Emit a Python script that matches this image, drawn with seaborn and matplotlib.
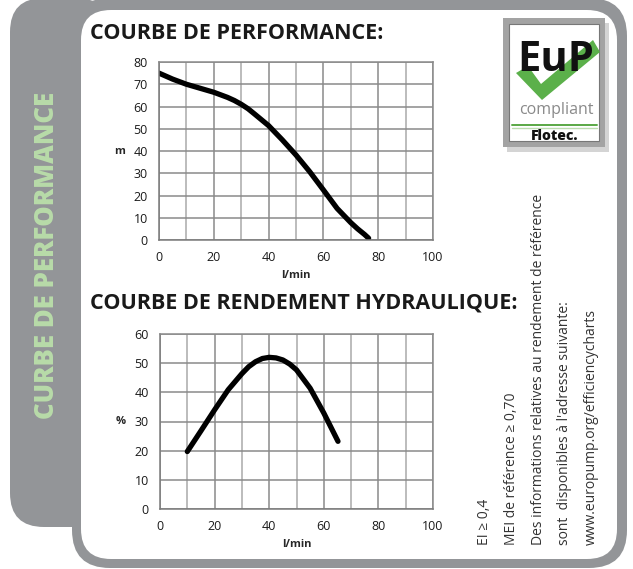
"""Pump datasheet panel: performance curve and hydraulic efficiency curve."""

import matplotlib
matplotlib.use("Agg")
import matplotlib.pyplot as plt
import seaborn as sns
from matplotlib.patches import FancyBboxPatch, Rectangle, Polygon

# performance curve (head in m vs flow in l/min)
perf_flow = [0, 5, 10, 15, 20, 25, 27.5, 30, 32.5, 35, 40, 45, 50, 55, 60, 65, 70, 72.5, 75, 76.5]
perf_head = [75, 72.3, 70, 68.2, 66.4, 64.1, 62.7, 61, 59, 56.5, 51.4, 45, 38.2, 30.7, 22.5,
             14.2, 7.8, 5, 2.5, 0.8]

# hydraulic efficiency curve (% vs flow in l/min)
eff_flow = [10, 15, 20, 25, 30, 32.5, 35, 37.5, 40, 42.5, 45, 47.5, 50, 55, 60, 65.2]
eff_pct = [19.7, 26.8, 34, 40.9, 46.4, 48.8, 50.5, 51.6, 52, 51.8, 51.1, 49.7, 47.7, 41.4, 32.9, 23.2]

flow_ticks = [0, 20, 40, 60, 80, 100]
flow_minor = [10, 30, 50, 70, 90]
head_ticks = [0, 10, 20, 30, 40, 50, 60, 70, 80]
eff_ticks = [0, 10, 20, 30, 40, 50, 60]

title_perf = "COURBE DE PERFORMANCE:"
title_eff = "COURBE DE RENDEMENT HYDRAULIQUE:"
side_title = "CURBE DE PERFORMANCE"
info_lines = [
    "EI ≥ 0,4",
    "MEI de référence ≥ 0,70",
    "Des informations relatives au rendement de référence",
    "sont  disponibles à l'adresse suivante:",
    "www.europump.org/efficiencycharts",
]

W, H = 633, 569
GRAY = "#939598"
GRID_MAJOR = "#8a8a8a"
GRID_MINOR = "#a9a9a9"

sns.set_style("white")
plt.rcParams["font.family"] = ["Open Sans", "DejaVu Sans"]

fig = plt.figure(figsize=(W / 100, H / 100), dpi=100)

# background layer in pixel coordinates
bg = fig.add_axes([0, 0, 1, 1])
bg.set_xlim(0, W)
bg.set_ylim(H, 0)
bg.axis("off")


def rbox(x0, y0, x1, y1, r, **kw):
    patch = FancyBboxPatch((x0, y0), x1 - x0, y1 - y0,
                           boxstyle=f"round,pad=0,rounding_size={r}", **kw)
    bg.add_patch(patch)


rbox(10, -2, 110, 527, 34, facecolor=GRAY, edgecolor="none")
rbox(72, -2, 627, 568, 38, facecolor=GRAY, edgecolor="none")
rbox(81, 10, 617, 559, 30, facecolor="white", edgecolor="none")

bg.text(47, 255, side_title, rotation=90, ha="center", va="center",
        color="#b8dba9", fontsize=18.5, fontweight="heavy")

bg.text(90, 33, title_perf, ha="left", va="center", fontsize=15.5,
        fontweight="bold", color="#1a1a1a")
bg.text(90, 303, title_eff, ha="left", va="center", fontsize=15.5,
        fontweight="bold", color="#1a1a1a")

# rotated info block
for i, line in enumerate(info_lines):
    bg.text(485 + i * 26.5, 545, line, rotation=90, ha="center", va="bottom",
            fontsize=10, color="#333333")

# EuP logo
bg.add_patch(Rectangle((507, 23), 102, 129, facecolor="#d4d4d4", edgecolor="none"))
bg.add_patch(Rectangle((503, 18), 102, 129, facecolor="#a3a3a3", edgecolor="none"))
bg.add_patch(Rectangle((509, 24), 90, 117, facecolor="white", edgecolor="#777777", lw=0.8))
bg.text(556, 60, "EuP", ha="center", va="center", fontsize=30,
        fontweight="bold", color="#111111")
bg.add_patch(Polygon([(516, 73), (528, 66), (541, 84), (593, 40), (600, 52), (542, 100)],
                     closed=True, facecolor="#5bb04a", edgecolor="none"))
bg.text(556, 110, "compliant", ha="center", va="center", fontsize=11.5, color="#8a8a8a")
bg.plot([512, 597], [125, 125], color="#5aa845", lw=1.4)
bg.plot([512, 597], [127.5, 127.5], color="#bcdcaf", lw=1.0)
bg.text(555, 136, "Flotec.", ha="center", va="center", fontsize=10,
        fontweight="heavy", color="#111111")


def style_axes(ax, yticks, ylabel):
    ax.set_facecolor("white")
    ax.set_xlim(0, 100)
    ax.set_ylim(yticks[0], yticks[-1])
    ax.set_xticks(flow_ticks)
    ax.set_xticks(flow_minor, minor=True)
    ax.set_yticks(yticks)
    ax.grid(which="major", color=GRID_MAJOR, lw=1.1)
    ax.grid(which="minor", axis="x", color=GRID_MINOR, lw=1.1)
    ax.set_axisbelow(True)
    for side in ["top", "right"]:
        ax.spines[side].set_color(GRID_MAJOR)
        ax.spines[side].set_linewidth(1.1)
    for side in ["left", "bottom"]:
        ax.spines[side].set_color("#7a7a7a")
        ax.spines[side].set_linewidth(1.1)
    ax.tick_params(which="major", direction="out", length=4, width=1,
                   color="#7a7a7a", labelsize=9, labelcolor="#1a1a1a", pad=4)
    ax.tick_params(which="minor", length=0)
    ax.set_xlabel("l/min", fontsize=8, fontweight="bold", labelpad=4)
    ax.set_ylabel(ylabel, fontsize=8, fontweight="bold", rotation=0,
                  va="center", ha="right", labelpad=6)


ax1 = fig.add_axes([159 / W, 1 - 240 / H, 274 / W, 178 / H])
sns.lineplot(x=perf_flow, y=perf_head, ax=ax1, color="black", lw=3.8, sort=False)
style_axes(ax1, head_ticks, "m")

ax2 = fig.add_axes([160 / W, 1 - 509 / H, 273 / W, 175 / H])
sns.lineplot(x=eff_flow, y=eff_pct, ax=ax2, color="black", lw=3.8, sort=False)
style_axes(ax2, eff_ticks, "%")

for ax in (ax1, ax2):
    for ln in ax.get_lines():
        ln.set_solid_capstyle("round")
        ln.set_solid_joinstyle("round")

fig.savefig("out.png", dpi=100)
plt.close(fig)
